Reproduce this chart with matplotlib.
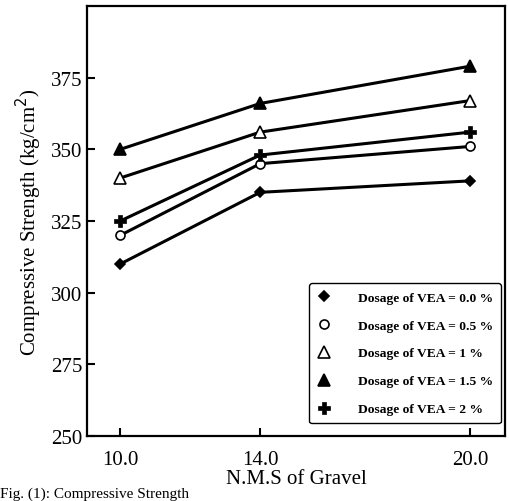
import matplotlib
matplotlib.use("Agg")
import matplotlib.pyplot as plt

x_vals = [10.0, 14.0, 20.0]
x_labels = ["10.0", "14.0", "20.0"]
vea_0_0 = [310, 335, 339]
vea_0_5 = [320, 345, 351]
vea_1_0 = [340, 356, 367]
vea_1_5 = [350, 366, 379]
vea_2_0 = [325, 348, 356]
labels = ["Dosage of VEA = 0.0 %", "Dosage of VEA = 0.5 %", "Dosage of VEA = 1 %",
          "Dosage of VEA = 1.5 %", "Dosage of VEA = 2 %"]
y_ticks = [250, 275, 300, 325, 350, 375]

plt.rcParams['font.family'] = ['Liberation Serif', 'DejaVu Serif']

fig = plt.figure(figsize=(5.10, 5.02), dpi=100)
ax = fig.add_axes([87/510, 1 - 437/502, 418/510, (437 - 7)/502])

series = [vea_0_0, vea_0_5, vea_1_0, vea_1_5, vea_2_0]
styles = [
    dict(marker='D', mfc='black', ms=5),
    dict(marker='o', mfc='white', ms=6.5),
    dict(marker='^', mfc='white', ms=8),
    dict(marker='^', mfc='black', ms=8),
    dict(marker='P', mfc='black', ms=8, mew=0.5),
]
for s, lab, st in zip(series, labels, styles):
    mew = st.pop('mew', 1.2)
    ax.plot(x_vals, s, color='black', lw=2.2, mec='black', mew=mew, label=lab, **st)

ax.set_xlim(9.05, 21.0)
ax.set_ylim(250, 400)
ax.set_xticks(x_vals)
ax.set_xticklabels(x_labels)
ax.set_yticks(y_ticks)
ax.tick_params(direction='in', length=6, width=1.5, labelsize=15)
ax.tick_params(axis='x', pad=10)
for sp in ax.spines.values():
    sp.set_linewidth(1.6)

ax.set_xlabel("N.M.S of Gravel", fontsize=15, labelpad=0)
ax.set_ylabel("Compressive Strength (kg/cm$^2$)", fontsize=15, labelpad=5)

leg = ax.legend(loc='lower right', fontsize=9.7, frameon=True, fancybox=True,
                edgecolor='black', framealpha=1, handlelength=1.0,
                labelspacing=1.15, borderpad=0.6, handletextpad=2.0,
                borderaxespad=0.3, bbox_to_anchor=(1.0, 0.02))
leg.get_frame().set_linewidth(1.0)
for t in leg.get_texts():
    t.set_fontweight('bold')
for h in leg.get_lines():
    h.set_linestyle('none')

fig.text(0.0, 0.002, "Fig. (1): Compressive Strength", fontsize=11, ha='left', va='bottom')

fig.savefig("out.png", dpi=100)
